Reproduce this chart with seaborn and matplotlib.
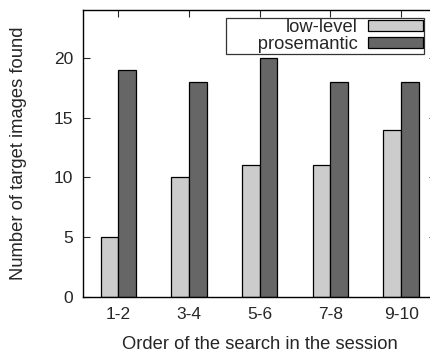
import matplotlib
matplotlib.use("Agg")
import matplotlib.pyplot as plt
import seaborn as sns
import pandas as pd

categories = ["1-2", "3-4", "5-6", "7-8", "9-10"]
low_level = [5, 10, 11, 11, 14]
prosemantic = [19, 18, 20, 18, 18]
series_names = ["low-level", "prosemantic"]
colors = ["#cccccc", "#666666"]

df = pd.DataFrame({
    "order": categories * 2,
    "count": low_level + prosemantic,
    "method": [series_names[0]] * len(categories) + [series_names[1]] * len(categories),
})

sns.set_style("white")
plt.rcParams["font.family"] = ["Liberation Sans", "DejaVu Sans"]

fig = plt.figure(figsize=(4.31, 3.53), dpi=100)
ax = fig.add_axes([0.1926, 0.1586, 0.82, 0.813])

sns.barplot(data=df, x="order", y="count", hue="method", palette=colors,
            width=0.5, edgecolor="black", linewidth=0.9, saturation=1,
            ax=ax, legend=True)

ax.set_xlim(-0.5, 4.5)
ax.set_ylim(0, 24)
ax.set_yticks([0, 5, 10, 15, 20])
ax.set_xlabel("Order of the search in the session", fontsize=13.2, labelpad=10)
ax.set_ylabel("Number of target images found", fontsize=13.2, labelpad=19)
ax.tick_params(axis="both", direction="in", length=5, width=0.8, labelsize=12.5,
               top=True, right=True, bottom=False, left=True, pad=7)
ax.tick_params(axis="x", bottom=False)
for s in ax.spines.values():
    s.set_visible(True)
    s.set_color("black")
    s.set_linewidth(1.0)

handles, labels = ax.get_legend_handles_labels()
labels = [lab if lab != "prosemantic" else "      " + lab for lab in labels]
leg = ax.legend(handles, labels, loc="upper right", bbox_to_anchor=(0.966, 0.972),
                markerfirst=False, frameon=True, fancybox=False, fontsize=13.2,
                handlelength=3.0, handleheight=0.55, handletextpad=0.6,
                borderpad=0.05, labelspacing=0.0, borderaxespad=0)
leg.get_frame().set_edgecolor("black")
leg.get_frame().set_linewidth(0.9)
leg.set_zorder(5)

fig.savefig("out.png", dpi=100)
